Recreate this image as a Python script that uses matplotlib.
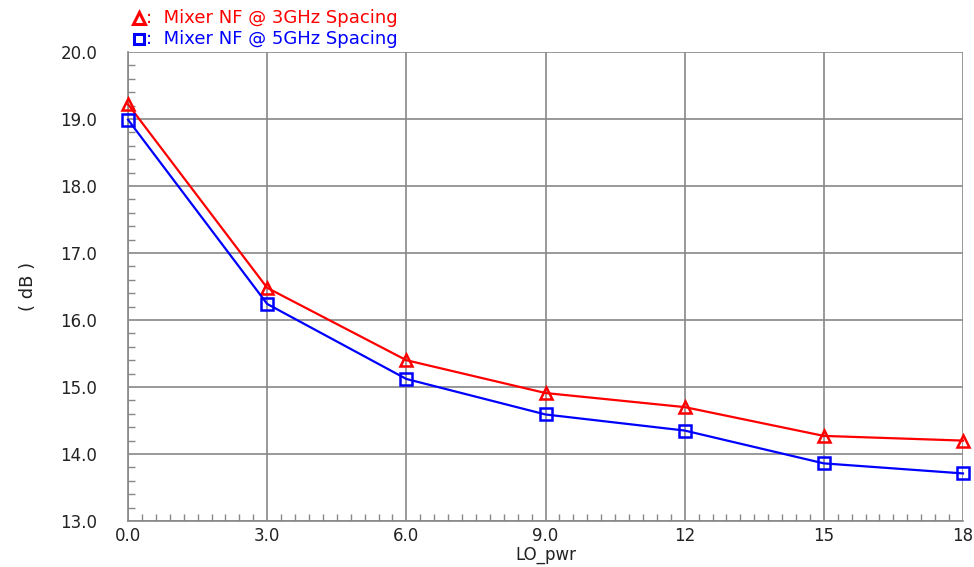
import matplotlib
matplotlib.use("Agg")
import matplotlib.pyplot as plt
from matplotlib.ticker import MultipleLocator, FixedLocator
from matplotlib.lines import Line2D

lo_pwr = [0, 3, 6, 9, 12, 15, 18]
nf_3ghz = [19.22, 16.48, 15.40, 14.91, 14.70, 14.27, 14.20]
nf_5ghz = [18.99, 16.24, 15.12, 14.59, 14.35, 13.86, 13.71]
x_ticks = [0, 3, 6, 9, 12, 15, 18]
x_ticklabels = ["0.0", "3.0", "6.0", "9.0", "12", "15", "18"]
y_ticks = [13, 14, 15, 16, 17, 18, 19, 20]
y_ticklabels = ["13.0", "14.0", "15.0", "16.0", "17.0", "18.0", "19.0", "20.0"]
labels = ["Mixer NF @ 3GHz Spacing", "Mixer NF @ 5GHz Spacing"]

fig = plt.figure(figsize=(9.74, 5.67), dpi=100)
ax = fig.add_axes([128/974, 1-521/567, (963-128)/974, (521-52)/567])

ax.plot(lo_pwr, nf_3ghz, color="#ff0000", lw=1.6, marker="^", ms=9,
        mfc="none", mec="#ff0000", mew=1.8, clip_on=False, zorder=3)
ax.plot(lo_pwr, nf_5ghz, color="#0000ff", lw=1.6, marker="s", ms=8,
        mfc="none", mec="#0000ff", mew=1.8, clip_on=False, zorder=3)

ax.set_xlim(0, 18)
ax.set_ylim(13, 20)
ax.xaxis.set_major_locator(FixedLocator(x_ticks))
ax.yaxis.set_major_locator(FixedLocator(y_ticks))
ax.set_xticklabels(x_ticklabels)
ax.set_yticklabels(y_ticklabels)
ax.xaxis.set_minor_locator(MultipleLocator(0.3))
ax.yaxis.set_minor_locator(MultipleLocator(0.2))

gray = "#888888"
ax.grid(True, which="major", color=gray, lw=1.2)
for s in ax.spines.values():
    s.set_color(gray)
    s.set_linewidth(1.2)
ax.spines["top"].set_visible(False)
ax.spines["right"].set_visible(False)
ax.tick_params(which="major", direction="in", length=0, colors=gray,
               labelcolor="#222222", labelsize=12)
ax.tick_params(axis="y", which="major", pad=22)
ax.tick_params(axis="x", which="major", pad=4)
ax.tick_params(which="minor", direction="in", length=5, color=gray, width=1)

ax.set_xlabel("LO_pwr", fontsize=12, color="#222222", labelpad=1)
ax.set_ylabel("( dB )", fontsize=13, color="#222222", labelpad=17)

# legend at top-left
colors = ["#ff0000", "#0000ff"]
markers = ["^", "s"]
ys = [1-18/567, 1-39/567]
for lab, c, m, yy in zip(labels, colors, markers, ys):
    fig.add_artist(Line2D([139/974], [yy], marker=m, color=c, mfc="none",
                          mec=c, mew=2.2, ms=7 if m == "s" else 8,
                          transform=fig.transFigure))
    fig.text(146/974, yy, ":  " + lab, color=c, fontsize=13, va="center",
             ha="left")

fig.savefig("out.png", dpi=100, facecolor="white")
